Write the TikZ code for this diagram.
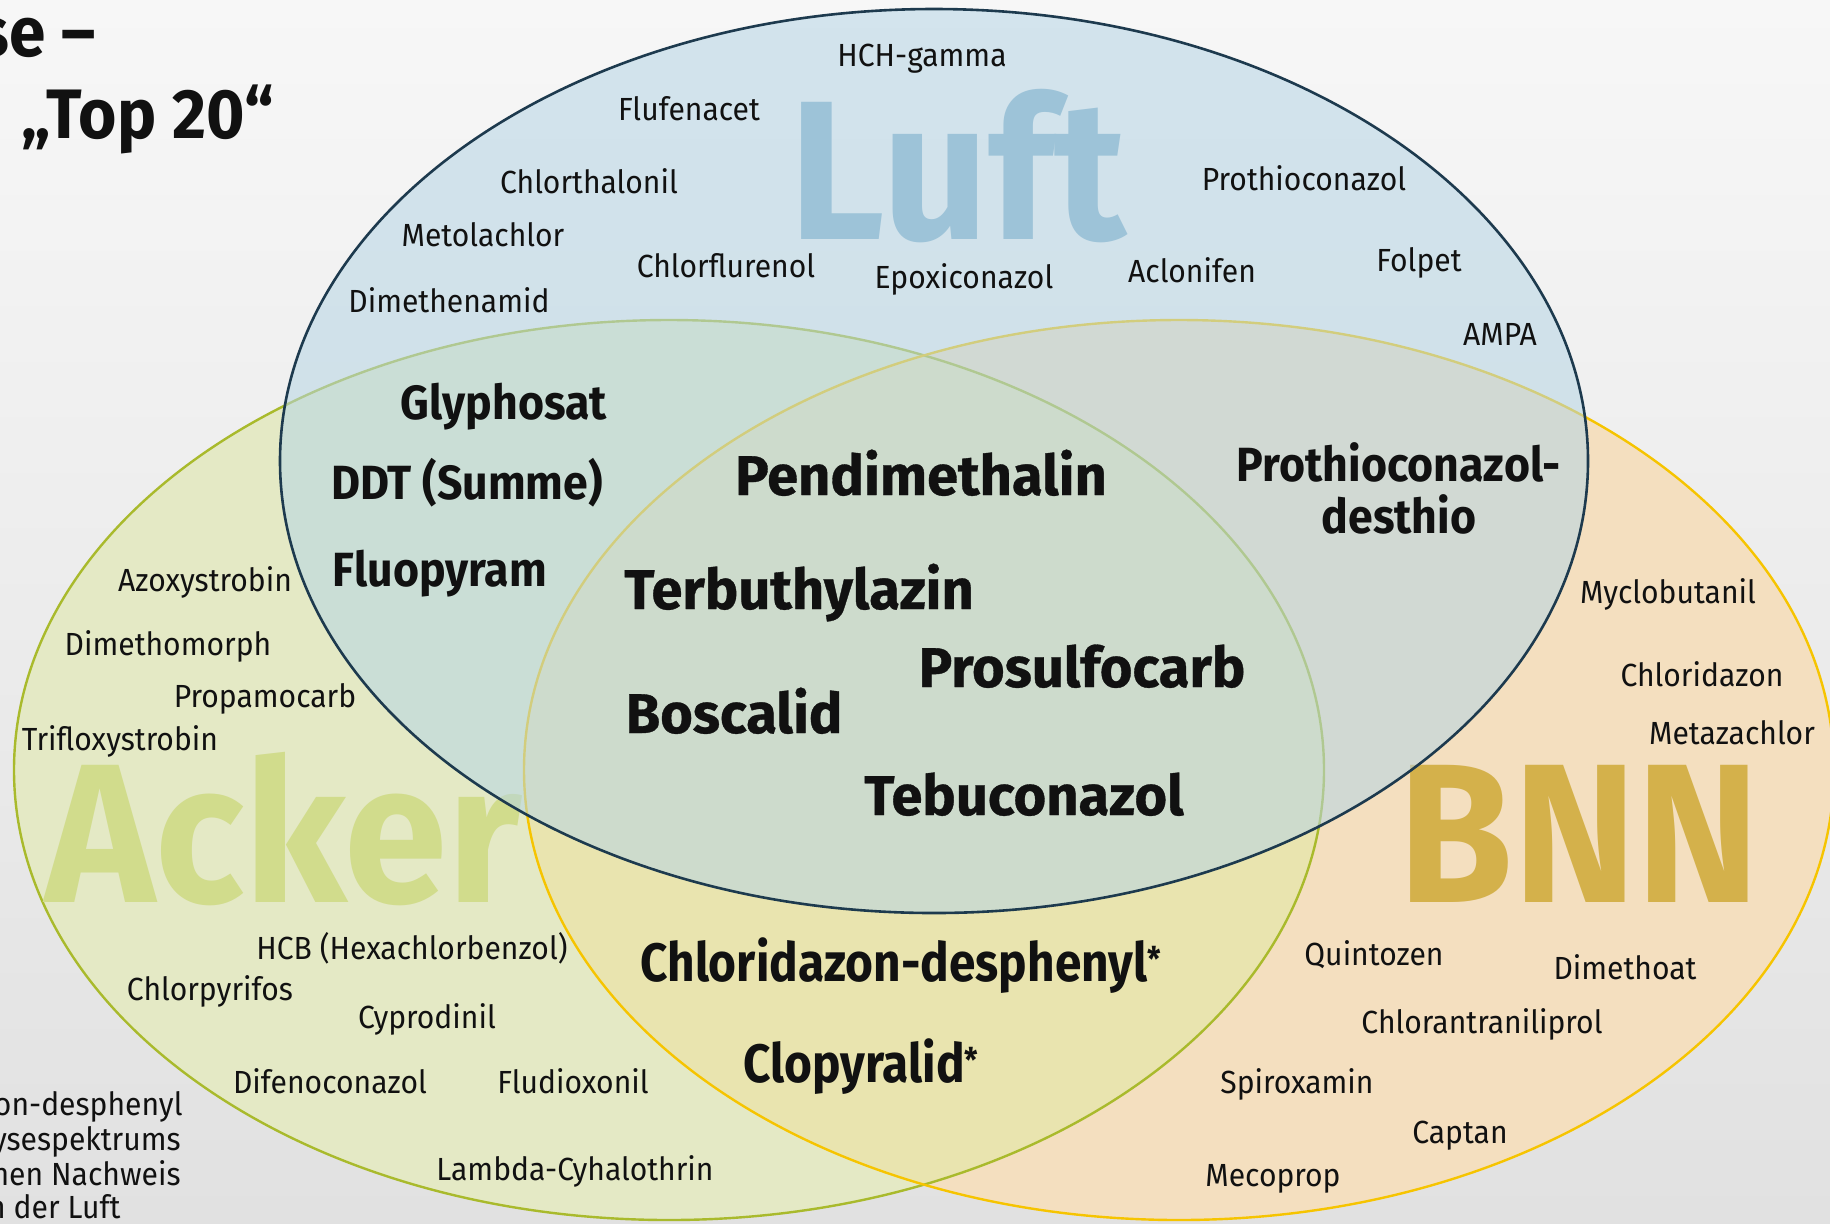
\documentclass[tikz,border=0pt]{standalone}
\usepackage{fontspec}
\setmainfont{Fira Sans}
\newfontfamily\labelfont[FakeStretch=0.94]{Fira Sans}
\newfontfamily\pairfont[FakeStretch=0.93]{Fira Sans}
\newfontfamily\twinfont[FakeStretch=0.885]{Fira Sans}
\newfontfamily\corefont[FakeStretch=1.0, BoldFeatures={FakeBold=0.6}]{Fira Sans}
\newfontfamily\wordfont[FakeStretch=0.94]{Fira Sans}
\newcommand{\starmark}{\raisebox{5pt}{\fontsize{17}{17}\selectfont *}}
\usetikzlibrary{positioning}

\definecolor{bgtop}{HTML}{F7F7F7}
\definecolor{bgbottom}{HTML}{E1E1E1}
\definecolor{luftfill}{RGB}{182,213,229}
\definecolor{luftline}{HTML}{1D3A4E}
\definecolor{ackerfill}{HTML}{E4E9C5}
\definecolor{ackerline}{HTML}{A9BA2C}
\definecolor{bnnfill}{HTML}{F4DFBF}
\definecolor{bnnline}{HTML}{F6C400}
\definecolor{bothfill}{HTML}{E9E4AF}
\definecolor{luftword}{HTML}{9DC3D8}
\definecolor{ackerword}{HTML}{D1DC8C}
\definecolor{bnnword}{HTML}{D4B14B}
\definecolor{ink}{HTML}{111111}

\begin{document}
\begin{tikzpicture}[x=0.5pt, y=-0.5pt,
    small/.style={font=\labelfont\fontsize{16}{18}\selectfont, text=ink,
        anchor=base, inner sep=0pt},
    pair/.style={font=\pairfont\bfseries\fontsize{24}{26}\selectfont, text=ink,
        anchor=base, inner sep=0pt},
    core/.style={font=\corefont\bfseries\fontsize{28}{32}\selectfont, text=ink,
        anchor=base, inner sep=0pt},
    twin/.style={font=\twinfont\bfseries\fontsize{27}{30}\selectfont, text=ink,
        anchor=base west, inner sep=0pt},
    bigword/.style={font=\wordfont\bfseries\fontsize{99}{99}\selectfont,
        anchor=base, inner sep=0pt, text depth=0pt},
    heading/.style={font=\labelfont\bfseries\fontsize{35}{40}\selectfont, text=ink,
        inner sep=0pt},
    note/.style={font=\labelfont\fontsize{16}{18}\selectfont, text=ink,
        anchor=base east, inner sep=0pt}
]
\useasboundingbox (0,0) rectangle (1830,1223);
\shade[top color=bgtop, bottom color=bgbottom] (0,0) rectangle (1830,1223);

\coordinate (luftc) at (934,461);
\coordinate (ackerc) at (669,770);
\coordinate (bnnc) at (1179,770);

\fill[ackerfill] (ackerc) ellipse [x radius=655, y radius=450];
\fill[bnnfill] (bnnc) ellipse [x radius=655, y radius=450];
\begin{scope}
  \clip (ackerc) ellipse [x radius=655, y radius=450];
  \fill[bothfill] (bnnc) ellipse [x radius=655, y radius=450];
\end{scope}
\draw[ackerline, line width=1.2pt] (ackerc) ellipse [x radius=655, y radius=450];
\draw[bnnline, line width=1.2pt] (bnnc) ellipse [x radius=655, y radius=450];

\node[bigword, text=ackerword] (ackerword) at (284,902) {Acker};
\node[bigword, text=bnnword] (bnnword) at (1579,902) {BNN};

\fill[luftfill, fill opacity=0.55] (luftc) ellipse [x radius=654, y radius=452];
\draw[luftline, line width=1.3pt] (luftc) ellipse [x radius=654, y radius=452];

\node[bigword, text=luftword] (luftword) at (958,239) {Luft};

\node[heading, anchor=base east] (title1) at (96,56) {se –};
\node[heading, anchor=base west] (title2) at (21,138) {„Top 20“};

\node[small] (hch) at (922,66) {HCH-gamma};
\node[small] (flufenacet) at (689,120) {Flufenacet};
\node[small] (chlorthalonil) at (589,193) {Chlorthalonil};
\node[small] (metolachlor) at (483,246) {Metolachlor};
\node[small] (dimethenamid) at (449,312) {Dimethenamid};
\node[small] (chlorflurenol) at (726,277) {Chlorflurenol};
\node[small] (epoxiconazol) at (964,288) {Epoxiconazol};
\node[small] (aclonifen) at (1192,282) {Aclonifen};
\node[small] (prothioconazol) at (1304,190) {Prothioconazol};
\node[small] (folpet) at (1419,271) {Folpet};
\node[small] (ampa) at (1500,345) {AMPA};

\node[small] (azoxystrobin) at (205,591) {Azoxystrobin};
\node[small] (dimethomorph) at (168,655) {Dimethomorph};
\node[small] (propamocarb) at (265,707) {Propamocarb};
\node[small] (trifloxystrobin) at (120,750) {Trifloxystrobin};
\node[small] (hcb) at (412,959) {HCB (Hexachlorbenzol)};
\node[small] (chlorpyrifos) at (210,1000) {Chlorpyrifos};
\node[small] (cyprodinil) at (427,1028) {Cyprodinil};
\node[small] (difenoconazol) at (330,1093) {Difenoconazol};
\node[small] (fludioxonil) at (573,1093) {Fludioxonil};
\node[small] (lambda) at (575,1180) {Lambda-Cyhalothrin};

\node[small] (myclobutanil) at (1668,603) {Myclobutanil};
\node[small] (chloridazon) at (1702,686) {Chloridazon};
\node[small] (metazachlor) at (1732,744) {Metazachlor};
\node[small] (quintozen) at (1374,965) {Quintozen};
\node[small] (dimethoat) at (1625,979) {Dimethoat};
\node[small] (chlorantraniliprol) at (1482,1033) {Chlorantraniliprol};
\node[small] (spiroxamin) at (1297,1093) {Spiroxamin};
\node[small] (captan) at (1460,1143) {Captan};
\node[small] (mecoprop) at (1273,1186) {Mecoprop};

\node[pair] (glyphosat) at (504,419) {Glyphosat};
\node[pair] (ddt) at (467,499) {DDT (Summe)};
\node[pair] (fluopyram) at (440,586) {Fluopyram};
\node[pair, align=center] (desthio) at (1399,533) {Prothioconazol-\\desthio};

\node[core] (pendimethalin) at (921,495) {Pendimethalin};
\node[core] (terbuthylazin) at (799,609) {Terbuthylazin};
\node[core] (prosulfocarb) at (1082,687) {Prosulfocarb};
\node[core] (boscalid) at (734,733) {Boscalid};
\node[core] (tebuconazol) at (1024,815) {Tebuconazol};

\node[twin] (desphenyl) at (640,981) {Chloridazon-desphenyl\starmark};
\node[twin] (clopyralid) at (743,1082) {Clopyralid\starmark};

\node[note] (note1) at (183,1115) {on-desphenyl};
\node[note] (note2) at (181,1150) {ysespektrums};
\node[note] (note3) at (181,1185) {hen Nachweis};
\node[note] (note4) at (121,1218) {n der Luft};
\end{tikzpicture}
\end{document}
